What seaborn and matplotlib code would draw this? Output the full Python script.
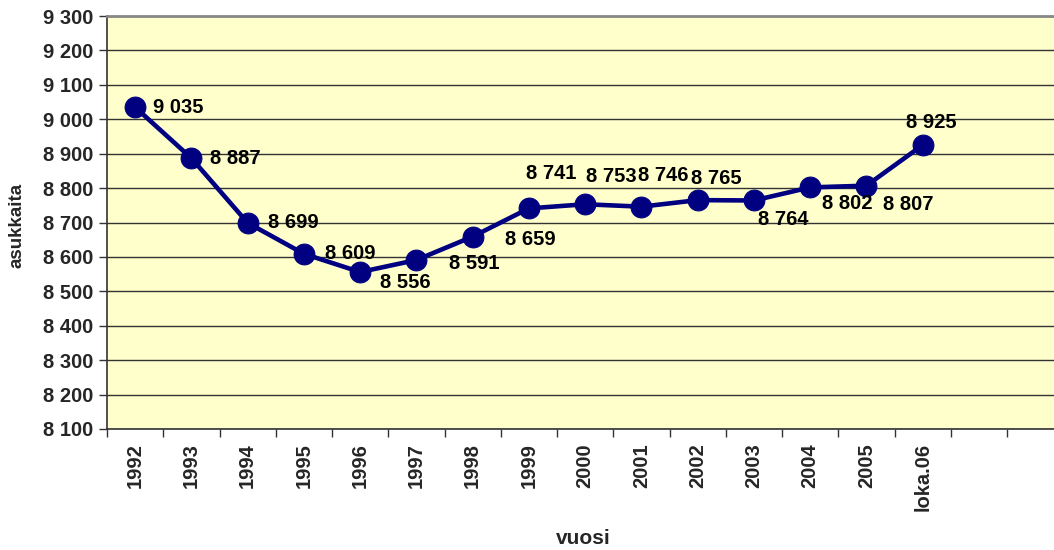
import pandas as pd
import numpy as np
import matplotlib
matplotlib.use('Agg')
import matplotlib.pyplot as plt
import seaborn as sns
from matplotlib.ticker import FuncFormatter, MultipleLocator, FixedLocator

# --- data ---
vuodet = ['1992', '1993', '1994', '1995', '1996', '1997', '1998', '1999',
          '2000', '2001', '2002', '2003', '2004', '2005', 'loka.06']
asukkaita = [9035, 8887, 8699, 8609, 8556, 8591, 8659, 8741,
             8753, 8746, 8765, 8764, 8802, 8807, 8925]
# label offsets in pixels (dx right, dy up) from the marker, left edge of text
label_offsets_px = [(18, 0), (19, 0), (20, 0), (21, 0), (20, -10), (33, -3),
                    (32, -3), (-3, 35), (1, 28), (-3, 31), (-7, 22), (4, -19),
                    (12, -16), (17, -19), (-17, 23)]

df = pd.DataFrame({'pos': np.arange(len(vuodet)), 'vuosi': vuodet, 'asukkaita': asukkaita})

sns.set_style('white')
plt.rcParams['font.family'] = ['Liberation Sans', 'DejaVu Sans']
plt.rcParams['font.weight'] = 'bold'

FS = 14.5
PX = 0.72  # points per pixel at dpi 100

fig = plt.figure(figsize=(10.54, 5.5), dpi=100)
ax = fig.add_axes([107 / 1054, 1 - 429 / 550, 1 - 107 / 1054, (429 - 16) / 550])
ax.set_facecolor('#FFFFCC')

sns.lineplot(data=df, x='pos', y='asukkaita', ax=ax, color='#000080',
             linewidth=3.3, marker='o', markersize=15, markeredgecolor='#000080',
             sort=False, zorder=3)

for i, (x, y) in enumerate(zip(df['pos'], df['asukkaita'])):
    label = f'{y:,}'.replace(',', ' ')
    dx, dy = label_offsets_px[i]
    ax.annotate(label, (x, y), xytext=(dx * PX, dy * PX), textcoords='offset points',
                ha='left', va='center', fontsize=FS, fontweight='bold',
                color='black', zorder=4)

# axes ranges
n_cat_visible = (1054 - 107) / ((1007 - 107) / 16)
ax.set_xlim(-0.5, -0.5 + n_cat_visible)
ax.set_ylim(8100, 9300)

# y axis
ax.yaxis.set_major_locator(MultipleLocator(100))
ax.yaxis.set_major_formatter(FuncFormatter(lambda v, p: f'{int(v):,}'.replace(',', ' ')))
ax.grid(axis='y', color='#333333', linewidth=1, zorder=0)
ax.set_axisbelow(True)
ax.tick_params(axis='y', which='major', length=6, width=1, color='#333333',
               labelsize=FS, pad=4, direction='out', left=True)

# x axis: labels at centres, tick marks at category boundaries
ax.xaxis.set_major_locator(FixedLocator(df['pos'].tolist()))
ax.set_xticklabels(vuodet, rotation=90, fontsize=FS, fontweight='bold')
ax.xaxis.set_minor_locator(FixedLocator(np.arange(-0.5, 17, 1.0)))
ax.tick_params(axis='x', which='major', length=0, pad=10)
ax.tick_params(axis='x', which='minor', length=6, width=1, color='#333333',
               direction='out', bottom=True)

for lbl in ax.get_yticklabels():
    lbl.set_fontweight('bold')

ax.spines['left'].set_color('#333333')
ax.spines['left'].set_linewidth(1.2)
ax.spines['bottom'].set_color('#333333')
ax.spines['bottom'].set_linewidth(1.2)
ax.spines['top'].set_color('#888888')
ax.spines['top'].set_linewidth(2)
ax.spines['right'].set_visible(False)

ax.set_xlabel('')
ax.set_ylabel('')
fig.text(583 / 1054, 1 - 538 / 550, 'vuosi', ha='center', va='center',
         fontsize=15, fontweight='bold')
fig.text(17 / 1054, 1 - 225 / 550, 'asukkaita', ha='center', va='center',
         rotation=90, fontsize=13.5, fontweight='bold')

fig.savefig('out.png', dpi=100)
